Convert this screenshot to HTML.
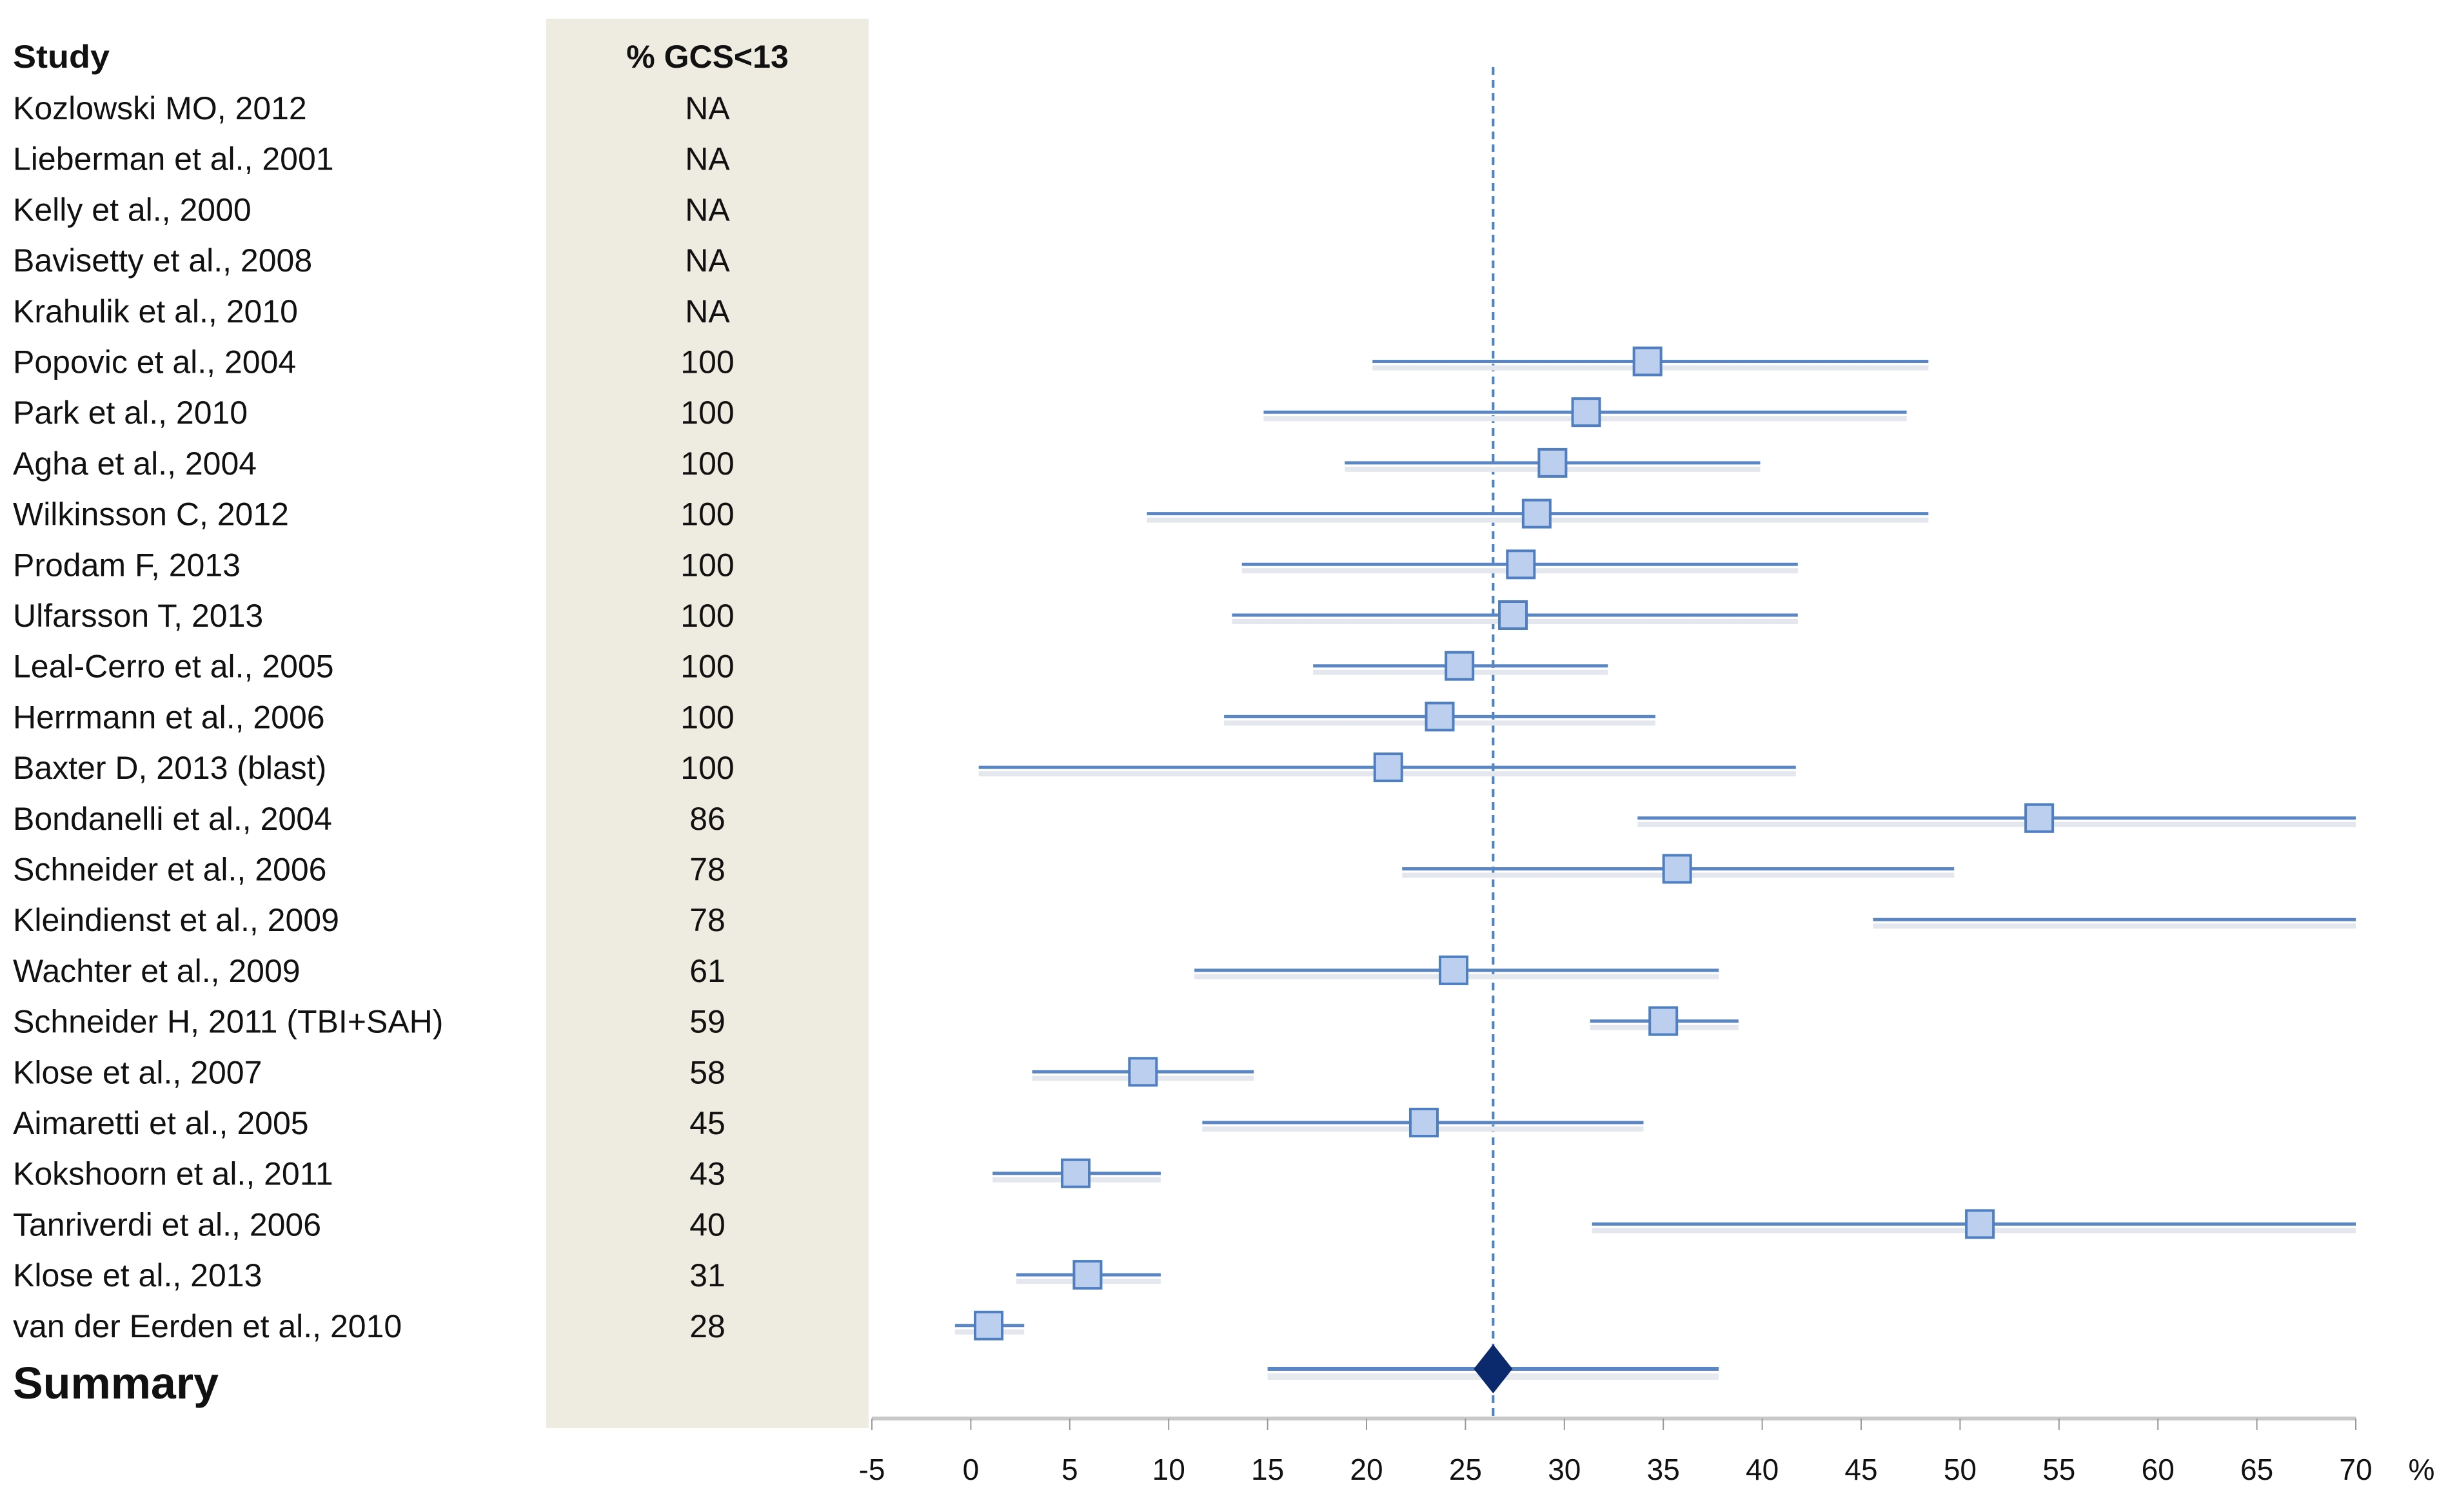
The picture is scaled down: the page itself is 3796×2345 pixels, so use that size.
<!DOCTYPE html>
<html><head><meta charset="utf-8">
<style>
html,body{margin:0;padding:0;background:#fff;}
svg{display:block;}
text{font-family:"Liberation Sans",sans-serif;fill:#111;}
</style></head>
<body>
<svg id="chart" width="3796" height="2345" viewBox="0 0 3796 2345">
<rect x="847" y="29" width="500" height="2186" fill="#eeebe1"/>
<text x="20" y="105" font-size="50" font-weight="bold" textLength="150" lengthAdjust="spacingAndGlyphs">Study</text>
<text x="1097" y="105" font-size="50" font-weight="bold" text-anchor="middle">% GCS&lt;13</text>
<g id="rows"></g>
<g id="axis"></g>
</svg>
<script>
const studies=["Kozlowski MO, 2012","Lieberman et al., 2001","Kelly et al., 2000","Bavisetty et al., 2008","Krahulik et al., 2010","Popovic et al., 2004","Park et al., 2010","Agha et al., 2004","Wilkinsson C, 2012","Prodam F, 2013","Ulfarsson T, 2013","Leal-Cerro et al., 2005","Herrmann et al., 2006","Baxter D, 2013 (blast)","Bondanelli et al., 2004","Schneider et al., 2006","Kleindienst et al., 2009","Wachter et al., 2009","Schneider H, 2011 (TBI+SAH)","Klose et al., 2007","Aimaretti et al., 2005","Kokshoorn et al., 2011","Tanriverdi et al., 2006","Klose et al., 2013","van der Eerden et al., 2010"];
const gcs=["NA","NA","NA","NA","NA","100","100","100","100","100","100","100","100","100","86","78","78","61","59","58","45","43","40","31","28"];
const est=[null,null,null,null,null,34.2,31.1,29.4,28.6,27.8,27.4,24.7,23.7,21.1,54.0,35.7,null,24.4,35.0,8.7,22.9,5.3,51.0,5.9,0.9];
const lo=[null,null,null,null,null,20.3,14.8,18.9,8.9,13.7,13.2,17.3,12.8,0.4,33.7,21.8,45.6,11.3,31.3,3.1,11.7,1.1,31.4,2.3,-0.8];
const hi=[null,null,null,null,null,48.4,47.3,39.9,48.4,41.8,41.8,32.2,34.6,41.7,70,49.7,70,37.8,38.8,14.3,34.0,9.6,70,9.6,2.7];
const summary=[26.4,15.0,37.8];
const ticks=[-5,0,5,10,15,20,25,30,35,40,45,50,55,60,65,70];
const NS="http://www.w3.org/2000/svg";
const X0=1352,X1=3653,VMIN=-5,VMAX=70;
function xs(v){return X0+(Math.max(VMIN,Math.min(VMAX,v))-VMIN)/(VMAX-VMIN)*(X1-X0);}
function ys(i){return 167+i*78.7;}
function mk(tag,attrs,parent){const e=document.createElementNS(NS,tag);for(const k in attrs)e.setAttribute(k,attrs[k]);parent.appendChild(e);return e;}
const rows=document.getElementById('rows');
const axis=document.getElementById('axis');
const ref=mk('line',{x1:xs(summary[0]),x2:xs(summary[0]),y1:104,y2:2200,stroke:'#4f81bd','stroke-width':4,'stroke-dasharray':'12,8'},rows);


studies.forEach((s,i)=>{
  const y=ys(i);
  const t=mk('text',{x:20,y:y+18,'font-size':50},rows);t.textContent=s;
  
  
  const g=mk('text',{x:1097,y:y+18,'font-size':50,'text-anchor':'middle'},rows);g.textContent=gcs[i];
  
  
  if(lo[i]!==null){
    const sh=mk('line',{x1:xs(lo[i]),x2:xs(hi[i]),y1:y+10,y2:y+10,stroke:'#e4e8ee','stroke-width':8},rows);
    
    
    const l=mk('line',{x1:xs(lo[i]),x2:xs(hi[i]),y1:y,y2:y,stroke:'#5b86c4','stroke-width':5},rows);
    
    
  }
  if(est[i]!==null){
    const r=mk('rect',{x:xs(est[i])-21,y:y-21,width:42,height:42,fill:'#bccfee',stroke:'#4f7fc0','stroke-width':4},rows);
    
    
  }
});
const sy=2123;
const st=mk('text',{x:20,y:sy+46,'font-size':70,'font-weight':'bold'},rows);st.textContent='Summary';


const ssh=mk('line',{x1:xs(summary[1]),x2:xs(summary[2]),y1:sy+12,y2:sy+12,stroke:'#e6e9ee','stroke-width':10},rows);


const sl=mk('line',{x1:xs(summary[1]),x2:xs(summary[2]),y1:sy,y2:sy,stroke:'#5b86c4','stroke-width':6},rows);


const cx=xs(summary[0]);
const d=mk('polygon',{points:`${cx},${sy-38} ${cx+30},${sy} ${cx},${sy+38} ${cx-30},${sy}`,fill:'#0b2a6e'},rows);


const al=mk('line',{x1:X0,x2:X1,y1:2200,y2:2200,stroke:'#c8c8c8','stroke-width':6},axis);


ticks.forEach(v=>{
  const tk=mk('line',{x1:xs(v),x2:xs(v),y1:2200,y2:2218,stroke:'#999','stroke-width':2},axis);
  
  
  const tl=mk('text',{x:xs(v),y:2295,'font-size':46,'text-anchor':'middle'},axis);tl.textContent=v;
  
  
});
const pc=mk('text',{x:3755,y:2295,'font-size':46,'text-anchor':'middle'},axis);pc.textContent='%';


</script>
</body></html>
